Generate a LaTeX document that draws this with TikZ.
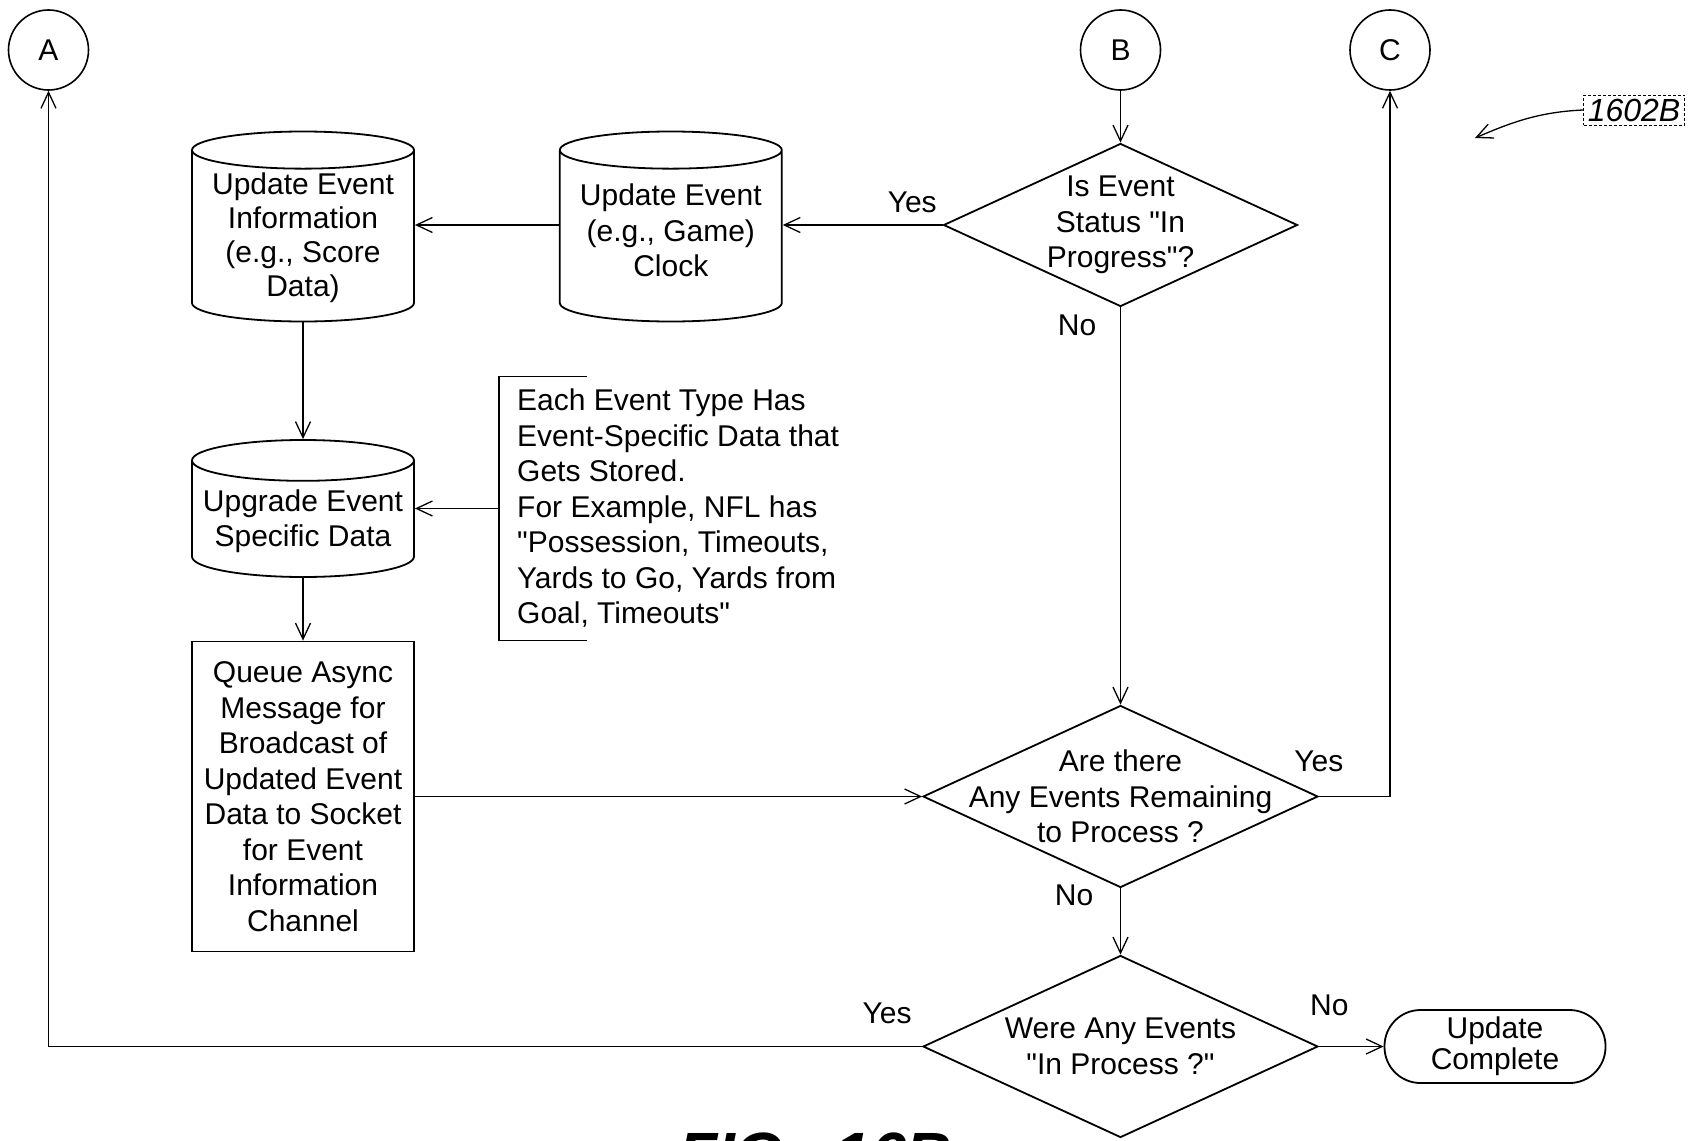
\documentclass[tikz,border=0pt]{standalone}
\usepackage{fontspec}
\setmainfont{Liberation Sans}
\usetikzlibrary{positioning}
\usetikzlibrary{arrows.meta}
\usetikzlibrary{shapes.geometric}

\tikzset{
    base/.style={draw, line width=1.8pt, align=center},
    connector/.style={draw, circle, line width=1.6pt, minimum size=80pt, inner sep=0pt},
    decision/.style={base, diamond, inner xsep=-100pt, inner ysep=-40pt, minimum width=395pt, minimum height=182pt},
    store/.style={base, cylinder, shape border rotate=90, aspect=0.2, minimum width=222pt, minimum height=190pt, inner sep=2pt, anchor=shape center},
    process/.style={base, rectangle, minimum width=222pt, minimum height=310pt},
    terminal/.style={base, rectangle, rounded corners=36pt, minimum width=221pt, minimum height=73pt, font=\fontsize{30pt}{31pt}\selectfont},
    flow/.style={line width=1.3pt, -{Straight Barb[length=16pt,width=15pt]}},
    answer/.style={inner sep=0pt},
}

\begin{document}
\begin{tikzpicture}[x=1pt, y=-1pt, font=\fontsize{30pt}{35.5pt}\selectfont]
        \useasboundingbox (0,0) rectangle (1691,1140);
        \node[connector] (A) at (48.5,50) {A};
        \node[connector] (B) at (1120.5,50) {B};
        \node[connector] (C) at (1390,50) {C};
        \node[decision, minimum width=354pt, minimum height=163pt] (InProgress) at (1120.5,225) {Is Event\\Status \textquotedbl In\\Progress\textquotedbl ?};
        \node[store] (GameClock) at (670.8,226.5) {Update Event\\(e.g., Game)\\Clock\\[-20.5pt]\mbox{}};
        \node[store, font=\fontsize{30pt}{34pt}\selectfont] (EventInfo) at (303,226.5) {Update Event\\Information\\(e.g., Score\\Data)};
        \node[store, minimum height=137pt] (SpecificData) at (303,508.5) {Upgrade Event\\Specific Data};
        \node[align=left, anchor=west, inner xsep=18pt, minimum height=263pt] (Note) at (499,508.5) {Each Event Type Has\\Event-Specific Data that\\Gets Stored.\\For Example, NFL has\\\textquotedbl Possession, Timeouts,\\Yards to Go, Yards from\\Goal, Timeouts\textquotedbl};
        \node[process] (QueueMsg) at (303,796.5) {Queue Async\\Message for\\Broadcast of\\Updated Event\\Data to Socket\\for Event\\Information\\Channel};
        \node[decision] (Remaining) at (1120.5,796.5) {Are there\\Any Events Remaining\\to Process ?};
        \node[decision] (InProcess) at (1120.5,1046.5) {Were Any Events\\\textquotedbl In Process ?\textquotedbl};
        \node[terminal] (Complete) at (1495,1046.5) {Update\\Complete};
        \node[draw, densely dashed, line width=0.9pt, font=\fontsize{32pt}{32pt}\selectfont\itshape, minimum width=101pt, minimum height=30pt, inner sep=1pt] (Ref) at (1634,110) {1602B};
        \coordinate (RefTip) at (1475,138);
        \begin{scope}
            \clip (0,0) rectangle (1691,1140);
            \node[font=\fontsize{64pt}{64pt}\selectfont\bfseries\itshape, anchor=base] (FigTitle) at (815,1177) {FIG.\hspace{0.5em}16B};
        \end{scope}

        \draw[line width=1.3pt] ([xshift=88pt]Note.north west) -- (Note.north west) -- (Note.south west) -- ([xshift=88pt]Note.south west);
        \draw[flow] (B) -- (InProgress);
        \draw[flow] (InProgress.west) -- node[answer, pos=0.19, yshift=23pt] (yes1) {Yes} (InProgress.west -| GameClock.east);
        \draw[flow] (GameClock.west |- InProgress.west) -- (EventInfo.east |- InProgress.west);
        \draw[flow] (EventInfo) -- (SpecificData);
        \draw[flow] (Note.west) -- (Note.west -| SpecificData.east);
        \draw[flow] (SpecificData) -- (QueueMsg);
        \draw[flow] (QueueMsg) -- (Remaining);
        \draw[flow] (InProgress) -- node[answer, pos=0.044, xshift=-43.5pt] (no1) {No} (Remaining);
        \draw[flow] (Remaining.east) -| node[answer, pos=0, yshift=35pt] (yes2) {Yes} (C);
        \draw[flow] (Remaining) -- node[answer, pos=0.11, xshift=-46.5pt] (no2) {No} (InProcess);
        \draw[flow] (InProcess.west) -| node[answer, pos=0.02, yshift=33pt] (yes3) {Yes} (A);
        \draw[flow] (InProcess.east) -- node[answer, pos=0.16, yshift=41pt] (no3) {No} (Complete.west);
        \draw[flow] (Ref.west) .. controls +(-45,2) and +(35,-15) .. (RefTip);
\end{tikzpicture}
\end{document}
